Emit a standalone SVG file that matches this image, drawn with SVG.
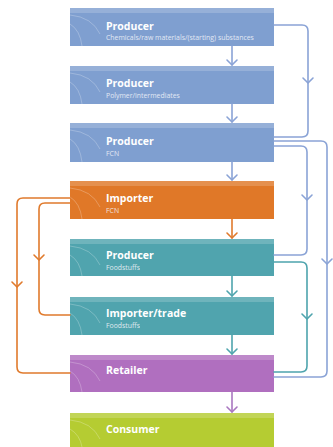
<svg xmlns="http://www.w3.org/2000/svg" xmlns:xlink="http://www.w3.org/1999/xlink" width="333" height="447" viewBox="0 0 333 447">
<style>
.t{font-family:"Open Sans","Liberation Sans",sans-serif;font-weight:bold;font-size:10.5px;fill:#fff}
.s{font-family:"Open Sans","Liberation Sans",sans-serif;font-size:6.9px;fill:#f4f6fb;opacity:.85}
.band{fill:#fff;opacity:.18}
.deco{fill:none;stroke:#fff;stroke-width:.7;opacity:.35}
.c{fill:none;stroke-width:1.6;stroke-linecap:round;stroke-linejoin:round}
.blue{stroke:#8aa3d6}
.or{stroke:#e07a2c}
.te{stroke:#4ea4ad}
.pu{stroke:#a977c0}
</style>
<defs>
<path id="chev" d="M-5,-5 L0,0 L5,-5" fill="none" stroke-width="1.6" stroke-linecap="round" stroke-linejoin="round"/>
</defs>
<rect width="333" height="447" fill="#fff"/>

<g id="n1">
<rect x="70" y="8" width="204" height="38" fill="#7f9fd0"/>
<rect class="band" x="70" y="8" width="204" height="5"/>
<path class="deco" d="M70,15 Q92,17 100,34 M70,24 Q80,30 82,46"/>
<text class="t" x="106" y="30">Producer</text>
<text class="s" x="106" y="40">Chemicals/raw materials/(starting) substances</text>
</g>
<g id="n2">
<rect x="70" y="66" width="204" height="38" fill="#7f9fd0"/>
<rect class="band" x="70" y="66" width="204" height="5"/>
<path class="deco" d="M70,73 Q92,75 100,92 M70,82 Q80,88 82,104"/>
<text class="t" x="106" y="87">Producer</text>
<text class="s" x="106" y="98">Polymer/intermediates</text>
</g>
<g id="n3">
<rect x="70" y="123" width="204" height="39" fill="#7f9fd0"/>
<rect class="band" x="70" y="123" width="204" height="5"/>
<path class="deco" d="M70,130 Q92,132 100,149 M70,139 Q80,145 82,162"/>
<text class="t" x="106" y="145">Producer</text>
<text class="s" x="106" y="156">FCN</text>
</g>
<g id="n4">
<rect x="70" y="181" width="204" height="38" fill="#e07828"/>
<rect class="band" x="70" y="181" width="204" height="5"/>
<path class="deco" d="M70,188 Q92,190 100,207 M70,197 Q80,203 82,219"/>
<text class="t" x="106" y="202">Importer</text>
<text class="s" x="106" y="213">FCN</text>
</g>
<g id="n5">
<rect x="70" y="239" width="204" height="37" fill="#50a4ae"/>
<rect class="band" x="70" y="239" width="204" height="5"/>
<path class="deco" d="M70,246 Q92,248 100,265 M70,255 Q80,261 82,276"/>
<text class="t" x="106" y="259">Producer</text>
<text class="s" x="106" y="270">Foodstuffs</text>
</g>
<g id="n6">
<rect x="70" y="297" width="204" height="38" fill="#50a4ae"/>
<rect class="band" x="70" y="297" width="204" height="5"/>
<path class="deco" d="M70,304 Q92,306 100,323 M70,313 Q80,319 82,335"/>
<text class="t" x="106" y="317">Importer/trade</text>
<text class="s" x="106" y="328">Foodstuffs</text>
</g>
<g id="n7">
<rect x="70" y="355" width="204" height="37" fill="#b06fbf"/>
<rect class="band" x="70" y="355" width="204" height="5"/>
<path class="deco" d="M70,362 Q92,364 100,381 M70,371 Q80,377 82,392"/>
<text class="t" x="106" y="374">Retailer</text>
</g>
<g id="n8">
<rect x="70" y="413" width="204" height="34" fill="#b5cc32"/>
<rect class="band" x="70" y="413" width="204" height="5"/>
<path class="deco" d="M70,420 Q92,422 100,439 M70,429 Q80,435 82,447"/>
<text class="t" x="106" y="433">Consumer</text>
</g>

<g id="connectors">
<!-- central arrows -->
<path class="c blue" d="M232,46 V65"/><use xlink:href="#chev" class="blue" x="232" y="65"/>
<path class="c blue" d="M232,104 V122"/><use xlink:href="#chev" class="blue" x="232" y="122"/>
<path class="c blue" d="M232,162 V180"/><use xlink:href="#chev" class="blue" x="232" y="180"/>
<path class="c or" d="M232,219 V238"/><use xlink:href="#chev" class="or" x="232" y="238"/>
<path class="c te" d="M232,276 V296"/><use xlink:href="#chev" class="te" x="232" y="296"/>
<path class="c te" d="M232,335 V354"/><use xlink:href="#chev" class="te" x="232" y="354"/>
<path class="c pu" d="M232,392 V412"/><use xlink:href="#chev" class="pu" x="232" y="412"/>
<!-- right loops -->
<path class="c blue" d="M274,25 H302 Q308,25 308,31 V131 Q308,137 302,137 H274"/><use xlink:href="#chev" class="blue" x="308" y="83"/>
<path class="c blue" d="M274,141 H321 Q327,141 327,147 V371 Q327,377 321,377 H274"/><use xlink:href="#chev" class="blue" x="327" y="264"/>
<path class="c blue" d="M274,146 H301 Q307,146 307,152 V249 Q307,255 301,255 H274"/><use xlink:href="#chev" class="blue" x="307" y="200"/>
<path class="c te" d="M274,262 H301 Q307,262 307,268 V366 Q307,372 301,372 H274"/><use xlink:href="#chev" class="te" x="307" y="319"/>
<!-- left loops -->
<path class="c or" d="M70,198 H23 Q17,198 17,204 V367 Q17,373 23,373 H70"/><use xlink:href="#chev" class="or" x="17" y="287"/>
<path class="c or" d="M70,203 H45 Q39,203 39,209 V309 Q39,315 45,315 H70"/><use xlink:href="#chev" class="or" x="39" y="260"/>
</g>
</svg>
